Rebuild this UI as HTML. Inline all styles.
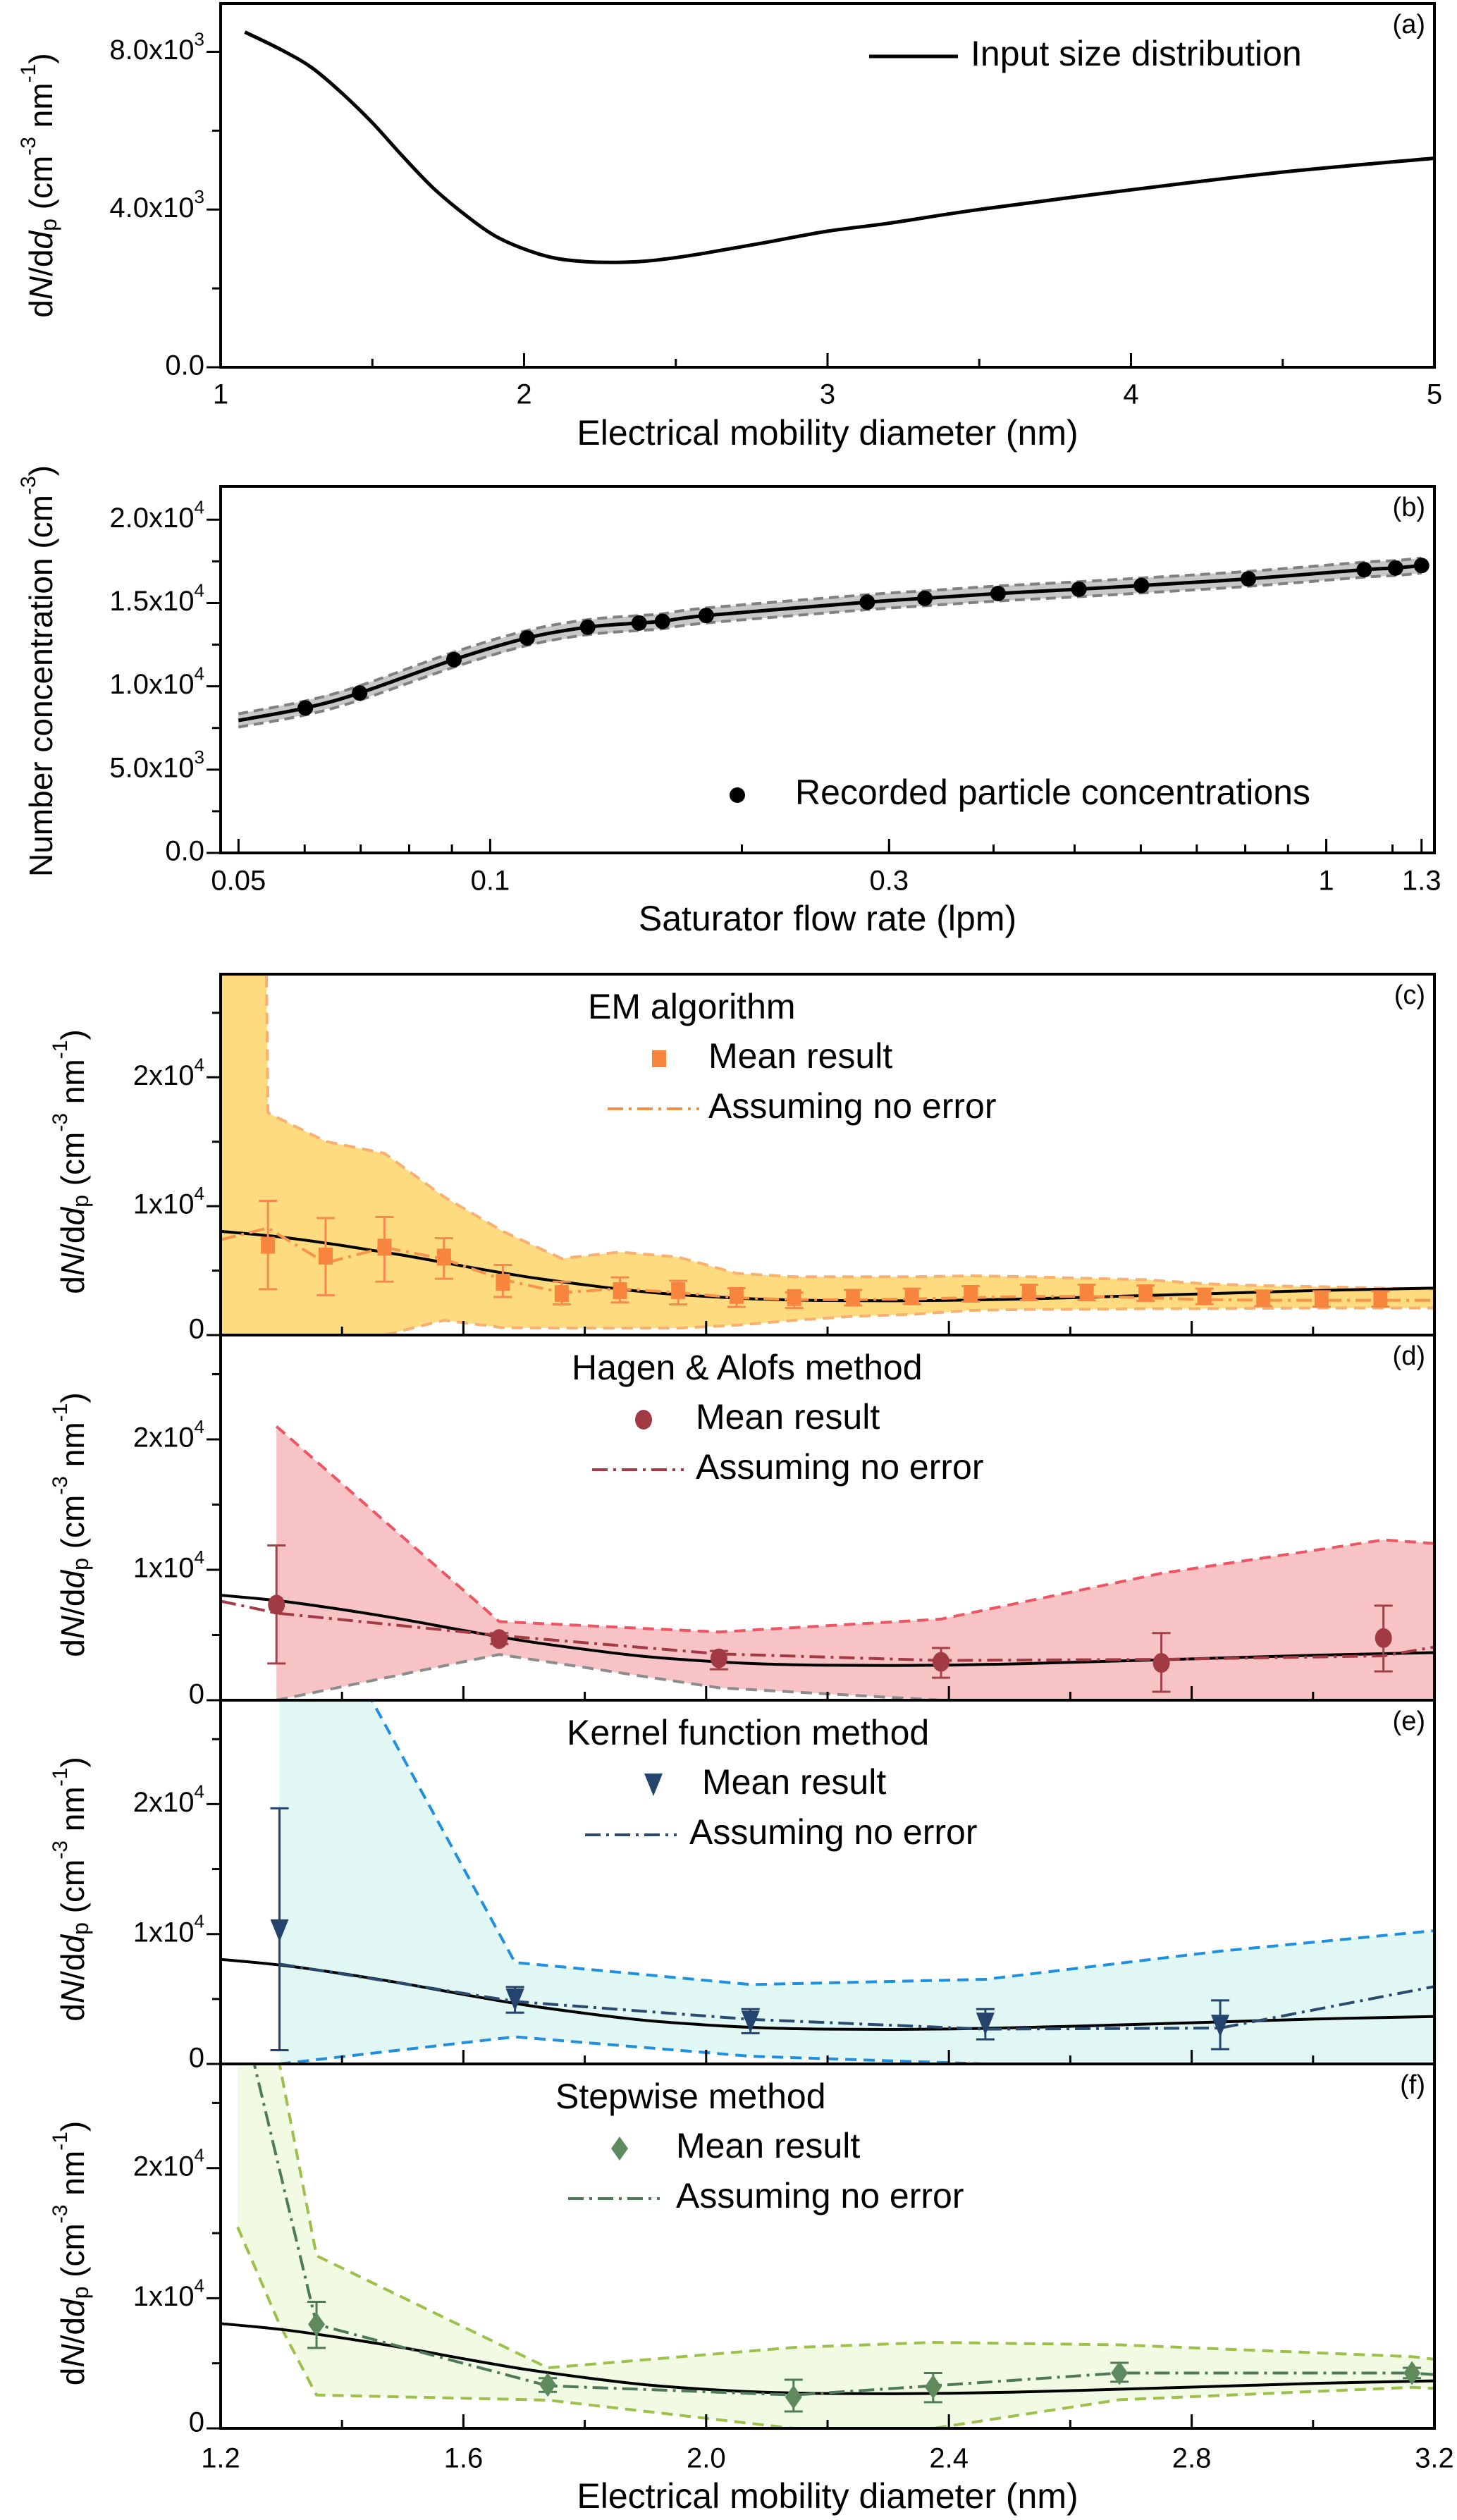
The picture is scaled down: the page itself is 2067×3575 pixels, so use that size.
<!DOCTYPE html>
<html><head><meta charset="utf-8"><style>
html,body{margin:0;padding:0;background:#fff;}
svg{display:block;font-family:"Liberation Sans",sans-serif;}
</style></head><body>
<svg id="fig" width="2067" height="3575" viewBox="0 0 2067 3575" xmlns="http://www.w3.org/2000/svg"></svg>
<script>
// ---------- DATA ----------
const inputX = [1.08,1.2,1.3,1.4,1.5,1.6,1.7,1.8,1.9,2.0,2.1,2.2,2.3,2.4,2.5,2.6,2.8,3.0,3.2,3.5,4.0,4.5,5.0];
const inputY = [8500,8050,7600,6950,6200,5350,4550,3900,3350,3000,2770,2680,2660,2690,2780,2900,3170,3450,3650,4000,4500,4950,5300];

const flowX = [0.05,0.0601,0.0698,0.0905,0.1107,0.1308,0.1507,0.1607,0.1813,0.2825,0.331,0.405,0.506,0.601,0.807,1.11,1.21,1.3];
const flowY = [7950,8700,9600,11600,12900,13550,13800,13900,14250,15050,15280,15570,15830,16050,16450,17000,17100,17250];
const flowErr = [400,420,430,450,450,450,450,450,450,450,450,450,450,450,450,450,450,450];

const emX = [1.278,1.373,1.470,1.568,1.665,1.762,1.858,1.954,2.050,2.145,2.242,2.339,2.436,2.532,2.627,2.724,2.821,2.918,3.014,3.111];
const emMean = [6970,6130,6820,6050,4100,3220,3450,3450,3070,2910,2910,2990,3220,3300,3300,3260,2990,2840,2800,2800];
const emHi = [10420,9080,9160,7510,5440,4140,4480,4210,3640,3300,3500,3600,3800,3900,3900,3850,3600,3450,3400,3400];
const emLo = [3560,3100,4140,4370,2950,2380,2530,2380,2180,2100,2300,2400,2600,2700,2700,2650,2400,2250,2200,2200];
const emNoErrX = [1.2,1.278,1.373,1.470,1.568,1.665,1.762,1.858,1.954,2.050,2.145,2.242,2.339,2.436,2.532,2.627,2.724,2.821,2.918,3.014,3.111,3.2];
const emNoErrY = [7400,8300,5600,6800,5900,4300,3300,3600,3300,2900,2750,2750,2800,2900,3000,3000,2900,2750,2700,2700,2700,2700];
const emBandX = [1.2,1.275,1.278,1.373,1.470,1.568,1.665,1.762,1.858,1.954,2.050,2.145,2.242,2.339,2.436,2.532,2.627,2.724,2.821,2.918,3.014,3.111,3.2];
const emBandHi = [30000,30000,17240,15020,14100,10730,8050,5940,6440,6050,4790,4520,4520,4520,4600,4520,4400,4300,3980,3830,3750,3640,3560];
const emBandLo = [0,0,0,0,0,1150,575,540,536,540,766,1150,1456,1609,1916,1992,2000,2050,2050,2080,2100,2100,2100];

const haX = [1.292,1.659,2.021,2.387,2.750,3.116];
const haMean = [7330,4690,3210,2940,2860,4770];
const haHi = [11870,5150,3780,4010,5150,7250];
const haLo = [2820,4310,2370,1720,650,2210];
const haNoErrX = [1.2,1.292,1.659,2.021,2.387,2.750,3.116,3.2];
const haNoErrY = [7600,6680,4960,3550,3050,3130,3400,4080];
const haBandX = [1.292,1.659,2.021,2.387,2.750,3.116,3.2];
const haBandHi = [21000,6030,5230,6220,9730,12290,12020];
const haBandLo = [0,3510,950,0,0,0,0];

const kfX = [1.297,1.685,2.073,2.460,2.847];
const kfMean = [10260,4930,3230,3080,2920];
const kfHi = [19680,5920,4220,4220,4890];
const kfLo = [1060,3950,2370,1890,1140];
const kfNoErrX = [1.297,1.685,2.073,2.460,2.847,3.2];
const kfNoErrY = [7690,4810,3430,2680,2760,5960];
const kfBandX = [1.297,1.685,2.073,2.460,2.847,3.2];
const kfBandHi = [41000,7810,6110,6510,8680,10260];
const kfBandLo = [0,2090,590,0,0,0];

const swX = [1.358,1.739,2.144,2.374,2.681,3.163];
const swMean = [7990,3350,2400,3190,4250,4250];
const swHi = [9720,3860,3740,4250,5040,4650];
const swLo = [6180,2800,1300,2010,3580,3860];
const swNoErrX = [1.24,1.358,1.739,2.144,2.374,2.681,3.163,3.2];
const swNoErrY = [31000,7990,3270,2560,3270,4250,4250,4130];
const swBandX = [1.228,1.297,1.358,1.739,2.144,2.374,2.681,3.163,3.2];
const swBandHi = [45000,28000,13270,4650,6220,6610,6420,5510,5310];
const swBandLo = [15470,8000,2560,2170,0,0,2200,3150,3070];

// ---------- HELPERS ----------
const NS="http://www.w3.org/2000/svg";
const svg=document.getElementById('fig');
function el(tag,attrs,parent){const e=document.createElementNS(NS,tag);for(const k in attrs)e.setAttribute(k,attrs[k]);(parent||svg).appendChild(e);return e;}
const L=313,R=2035;
const linX=(x0,x1)=>v=>L+(v-x0)/(x1-x0)*(R-L);
const logX=(x0,x1)=>v=>L+Math.log10(v/x0)/Math.log10(x1/x0)*(R-L);
const linY=(y0,y1,top,bot)=>v=>bot-(v-y0)/(y1-y0)*(bot-top);
function pathOf(xs,ys,sx,sy){return xs.map((x,i)=>(i?'L':'M')+sx(x).toFixed(1)+','+sy(ys[i]).toFixed(1)).join(' ');}
function smoothOf(xs,ys,sx,sy){
  const P=xs.map((x,i)=>[sx(x),sy(ys[i])]);
  let d='M'+P[0][0].toFixed(1)+','+P[0][1].toFixed(1);
  for(let i=0;i<P.length-1;i++){
    const p0=P[Math.max(0,i-1)],p1=P[i],p2=P[i+1],p3=P[Math.min(P.length-1,i+2)];
    const c1=[p1[0]+(p2[0]-p0[0])/6,p1[1]+(p2[1]-p0[1])/6];
    const c2=[p2[0]-(p3[0]-p1[0])/6,p2[1]-(p3[1]-p1[1])/6];
    d+=' C'+c1.map(v=>v.toFixed(1)).join(',')+' '+c2.map(v=>v.toFixed(1)).join(',')+' '+p2.map(v=>v.toFixed(1)).join(',');
  }
  return d;
}
let clipN=0;
function clipFor(top,bot){const id='c'+(clipN++);const cp=el('clipPath',{id:id});el('rect',{x:L,y:top,width:R-L,height:bot-top},cp);return 'url(#'+id+')';}
function ylabel(x,y,parts,name){
  const t=el('text',{x:x,y:y,'font-size':46,'text-anchor':'middle',transform:'rotate(-90 '+x+' '+y+')','dominant-baseline':'middle'});
  
  
  t.innerHTML=parts;
  return t;
}
const DNDD='d<tspan font-style="italic">N</tspan>/d<tspan font-style="italic">d</tspan><tspan font-size="32" baseline-shift="-10">p</tspan> (cm<tspan font-size="30" baseline-shift="20">-3</tspan> nm<tspan font-size="30" baseline-shift="20">-1</tspan>)';
function sciLabel(g,x,y,mant,exp,size){
  const t=el('text',{x:x,y:y,'font-size':size,'text-anchor':'end','dominant-baseline':'middle'},g);
  t.innerHTML=mant+'x10<tspan font-size="'+(size*0.65)+'" baseline-shift="'+(size*0.4)+'">'+exp+'</tspan>';
  return t;
}
function frame(top,bot,name){
  const r=el('rect',{x:L,y:top,width:R-L,height:bot-top,fill:'none',stroke:'#000','stroke-width':4});
  
  
}
function panelTag(txt,top){const t=el('text',{x:2022,y:top+42,'font-size':38,'text-anchor':'end'});t.textContent=txt;
  
  }

// ---------- PANEL A ----------
(function(){
  const top=5,bot=521;
  const sx=linX(1,5), sy=linY(0,9224,top,bot);
  const g=el('g',{});
  
  
  const cl=clipFor(top,bot);
  const p=el('path',{d:smoothOf(inputX,inputY,sx,sy),fill:'none',stroke:'#000','stroke-width':5,'clip-path':cl},g);
  
  
  frame(top,bot,'panel-a-frame');
  for(let v=1;v<=5;v+=0.5){const x=sx(v);const maj=Number.isInteger(v);
    el('line',{x1:x,x2:x,y1:bot,y2:bot-(maj?20:12),stroke:'#000','stroke-width':3},g);
    if(maj){const t=el('text',{x:x,y:562,'font-size':40,'text-anchor':'middle','dominant-baseline':'middle'},g);t.textContent=v;
      }}
  for(let v=0;v<=9000;v+=2000){const y=sy(v);const maj=v%4000===0;
    el('line',{x1:L,x2:L-(maj?20:12),y1:y,y2:y,stroke:'#000','stroke-width':3},g);
    if(maj){const t=v===0?el('text',{x:290,y:y,'font-size':40,'text-anchor':'end','dominant-baseline':'middle'},g):sciLabel(g,290,y,(v/1000).toFixed(1),3,40);
      if(v===0)t.textContent='0.0';
      }}
  const xl=el('text',{x:1174,y:618,'font-size':50,'text-anchor':'middle','dominant-baseline':'middle'});
  xl.textContent='Electrical mobility diameter (nm)';
  
  ylabel(62,263,DNDD,'y-axis-title-a');
  const lg=el('line',{x1:1233,x2:1359,y1:80,y2:80,stroke:'#000','stroke-width':5});
  
  const lt=el('text',{x:1377,y:80,'font-size':50,'dominant-baseline':'middle'});lt.textContent='Input size distribution';
  
  panelTag('(a)',top);
})();

// ---------- PANEL B ----------
(function(){
  const top=690,bot=1210;
  const sx=logX(0.0476,1.347), sy=linY(0,22000,top,bot);
  const g=el('g',{});
  
  const cl=clipFor(top,bot);
  const up=flowY.map((v,i)=>v+flowErr[i]), lo=flowY.map((v,i)=>v-flowErr[i]);
  const band=pathOf(flowX,up,sx,sy)+' '+pathOf(flowX.slice().reverse(),lo.slice().reverse(),sx,sy).replace('M','L')+' Z';
  const b=el('path',{d:band,fill:'#c8c8c8',stroke:'none','clip-path':cl},g);
  
  [up,lo].forEach(a=>{const d=el('path',{d:smoothOf(flowX,a,sx,sy),fill:'none',stroke:'#808080','stroke-width':4,'stroke-dasharray':'14 8','clip-path':cl},g);
    });
  const ln=el('path',{d:smoothOf(flowX,flowY,sx,sy),fill:'none',stroke:'#000','stroke-width':5,'clip-path':cl},g);
  
  flowX.forEach((x,i)=>{if(i===0)return;const c=el('circle',{cx:sx(x),cy:sy(flowY[i]),r:11,fill:'#000'},g);
    
    el('line',{x1:sx(x),x2:sx(x),y1:sy(up[i]),y2:sy(lo[i]),stroke:'#000','stroke-width':3},g);});
  frame(top,bot,'panel-b-frame');
  const minors=[0.06,0.07,0.08,0.09,0.2,0.3,0.4,0.5,0.6,0.7,0.8,0.9,1,1.2];
  const majors=[0.05,0.1,0.3,1,1.3];
  minors.forEach(v=>el('line',{x1:sx(v),x2:sx(v),y1:bot,y2:bot-12,stroke:'#000','stroke-width':3},g));
  majors.forEach(v=>{el('line',{x1:sx(v),x2:sx(v),y1:bot,y2:bot-20,stroke:'#000','stroke-width':3},g);
    const t=el('text',{x:sx(v),y:1252,'font-size':40,'text-anchor':'middle','dominant-baseline':'middle'},g);t.textContent=v;
    });
  for(let v=0;v<=20000;v+=2500){const y=sy(v);const maj=v%5000===0;
    el('line',{x1:L,x2:L-(maj?20:12),y1:y,y2:y,stroke:'#000','stroke-width':3},g);
    if(maj){let t;if(v===0){t=el('text',{x:290,y:y,'font-size':40,'text-anchor':'end','dominant-baseline':'middle'},g);t.textContent='0.0';}
      else if(v<10000)t=sciLabel(g,290,y,(v/1000).toFixed(1),3,40);else t=sciLabel(g,290,y,(v/10000).toFixed(1),4,40);
      }}
  const xl=el('text',{x:1174,y:1307,'font-size':50,'text-anchor':'middle','dominant-baseline':'middle'});
  xl.textContent='Saturator flow rate (lpm)';
  
  ylabel(62,952,'Number concentration (cm<tspan font-size="30" baseline-shift="20">-3</tspan>)','y-axis-title-b');
  const ld=el('circle',{cx:1046,cy:1128,r:11,fill:'#000'});
  
  const lt=el('text',{x:1128,y:1128,'font-size':50,'dominant-baseline':'middle'});lt.textContent='Recorded particle concentrations';
  
  panelTag('(b)',top);
})();

// ---------- PANELS C-F ----------
function marker(g,type,x,y,color){
  let m;
  if(type==='square')m=el('rect',{x:x-10,y:y-12,width:20,height:24,fill:color},g);
  else if(type==='circle')m=el('ellipse',{cx:x,cy:y,rx:12,ry:14,fill:color},g);
  else if(type==='tri')m=el('path',{d:`M${x-13},${y-16} L${x+13},${y-16} L${x},${y+16} Z`,fill:color},g);
  else m=el('path',{d:`M${x},${y-17} L${x+12},${y} L${x},${y+17} L${x-12},${y} Z`,fill:color},g);
  return m;
}
function methodPanel(o){
  const top=o.top,bot=o.bot;
  const sx=linX(1.2,3.2), sy=linY(0,28000,top,bot);
  const g=el('g',{});
  
  const cl=clipFor(top,bot);
  const band=pathOf(o.bx,o.bhi,sx,sy)+' '+pathOf(o.bx.slice().reverse(),o.blo.slice().reverse(),sx,sy).replace('M','L')+' Z';
  const b=el('path',{d:band,fill:o.fill,stroke:'none','clip-path':cl},g);
  
  const hi=el('path',{d:pathOf(o.bx,o.bhi,sx,sy),fill:'none',stroke:o.hiCol,'stroke-width':4,'stroke-dasharray':'16 10','clip-path':cl},g);
  
  const lo=el('path',{d:pathOf(o.bx,o.blo,sx,sy),fill:'none',stroke:o.loCol,'stroke-width':4,'stroke-dasharray':'16 10','clip-path':cl},g);
  
  const inp=el('path',{d:smoothOf(inputX,inputY,sx,sy),fill:'none',stroke:'#000','stroke-width':4,'clip-path':cl},g);
  
  const ne=el('path',{d:pathOf(o.nx,o.ny,sx,sy),fill:'none',stroke:o.neCol,'stroke-width':4,'stroke-dasharray':'22 8 4 8','clip-path':cl},g);
  
  o.mx.forEach((x,i)=>{
    const X=sx(x);
    const eb=el('path',{d:`M${X},${sy(o.mhi[i])} V${sy(o.mlo[i])} M${X-13},${sy(o.mhi[i])} H${X+13} M${X-13},${sy(o.mlo[i])} H${X+13}`,stroke:o.errCol,'stroke-width':3,fill:'none','clip-path':cl},g);
    
    const m=marker(g,o.mk,X,sy(o.mm[i]),o.mCol);
    
  });
  frame(top,bot,o.name+'-frame');
  for(let v=1.2;v<=3.21;v+=0.2){const X=sx(v);const maj=Math.round((v-1.2)*10)%4===0;
    el('line',{x1:X,x2:X,y1:bot,y2:bot-(maj?20:12),stroke:'#000','stroke-width':3},g);
    if(maj&&o.xlabels){const t=el('text',{x:X,y:3490,'font-size':40,'text-anchor':'middle','dominant-baseline':'middle'},g);t.textContent=v.toFixed(1);
      }}
  for(let v=0;v<=25000;v+=5000){const y=sy(v);const maj=v%10000===0;
    el('line',{x1:L,x2:L-(maj?20:12),y1:y,y2:y,stroke:'#000','stroke-width':3},g);
    if(maj){let t;if(v===0){t=el('text',{x:290,y:y-6,'font-size':40,'text-anchor':'end','dominant-baseline':'middle'},g);t.textContent='0';}
      else t=sciLabel(g,290,y,v/10000,4,40);
      }}
  ylabel(107,(top+bot)/2+10,DNDD,'y-axis-title-'+o.tag);
  const tt=el('text',{x:o.tx,y:top+50,'font-size':50,'dominant-baseline':'middle'});tt.textContent=o.title;
  
  const lm=marker(svg,o.mk,o.lmx,top+120,o.mCol);
  
  const t1=el('text',{x:o.ltx,y:top+120,'font-size':50,'dominant-baseline':'middle'});t1.textContent='Mean result';
  
  const ll=el('line',{x1:o.llx,x2:o.llx+130,y1:top+191,y2:top+191,stroke:o.neCol,'stroke-width':4,'stroke-dasharray':'22 8 4 8'});
  
  const t2=el('text',{x:o.ltx2,y:top+191,'font-size':50,'dominant-baseline':'middle'});t2.textContent='Assuming no error';
  
  panelTag('('+o.tag+')',top);
}
methodPanel({name:'panel-c',tag:'c',top:1382,bot:1894,bx:emBandX,bhi:emBandHi,blo:emBandLo,fill:'#FFDB80',hiCol:'#F8B070',loCol:'#F8B070',
  nx:emNoErrX,ny:emNoErrY,neCol:'#F7944A',mx:emX,mm:emMean,mhi:emHi,mlo:emLo,mk:'square',mCol:'#F7853E',errCol:'#F58A50',
  title:'EM algorithm',tx:834,lmx:935,ltx:1005,llx:862,ltx2:1005});
methodPanel({name:'panel-d',tag:'d',top:1894,bot:2412,bx:haBandX,bhi:haBandHi,blo:haBandLo,fill:'#F8C3C5',hiCol:'#EE5563',loCol:'#8c8c8c',
  nx:haNoErrX,ny:haNoErrY,neCol:'#A33A44',mx:haX,mm:haMean,mhi:haHi,mlo:haLo,mk:'circle',mCol:'#A13A42',errCol:'#A34048',
  title:'Hagen & Alofs method',tx:811,lmx:913,ltx:987,llx:840,ltx2:987});
methodPanel({name:'panel-e',tag:'e',top:2412,bot:2928,bx:kfBandX,bhi:kfBandHi,blo:kfBandLo,fill:'#E0F7F3',hiCol:'#1F8FE0',loCol:'#1F8FE0',
  nx:kfNoErrX,ny:kfNoErrY,neCol:'#2B4A70',mx:kfX,mm:kfMean,mhi:kfHi,mlo:kfLo,mk:'tri',mCol:'#24446E',errCol:'#24446E',
  title:'Kernel function method',tx:804,lmx:927,ltx:996,llx:830,ltx2:978});
methodPanel({name:'panel-f',tag:'f',top:2928,bot:3445,bx:swBandX,bhi:swBandHi,blo:swBandLo,fill:'#F1FBE4',hiCol:'#9CC04A',loCol:'#9CC04A',
  nx:swNoErrX,ny:swNoErrY,neCol:'#4E7A5A',mx:swX,mm:swMean,mhi:swHi,mlo:swLo,mk:'diamond',mCol:'#5E8A5E',errCol:'#4E7A5A',
  title:'Stepwise method',tx:788,lmx:879,ltx:959,llx:806,ltx2:959,xlabels:true});
const xf=el('text',{x:1174,y:3545,'font-size':50,'text-anchor':'middle','dominant-baseline':'middle'});
xf.textContent='Electrical mobility diameter (nm)';


</script>
</body></html>
